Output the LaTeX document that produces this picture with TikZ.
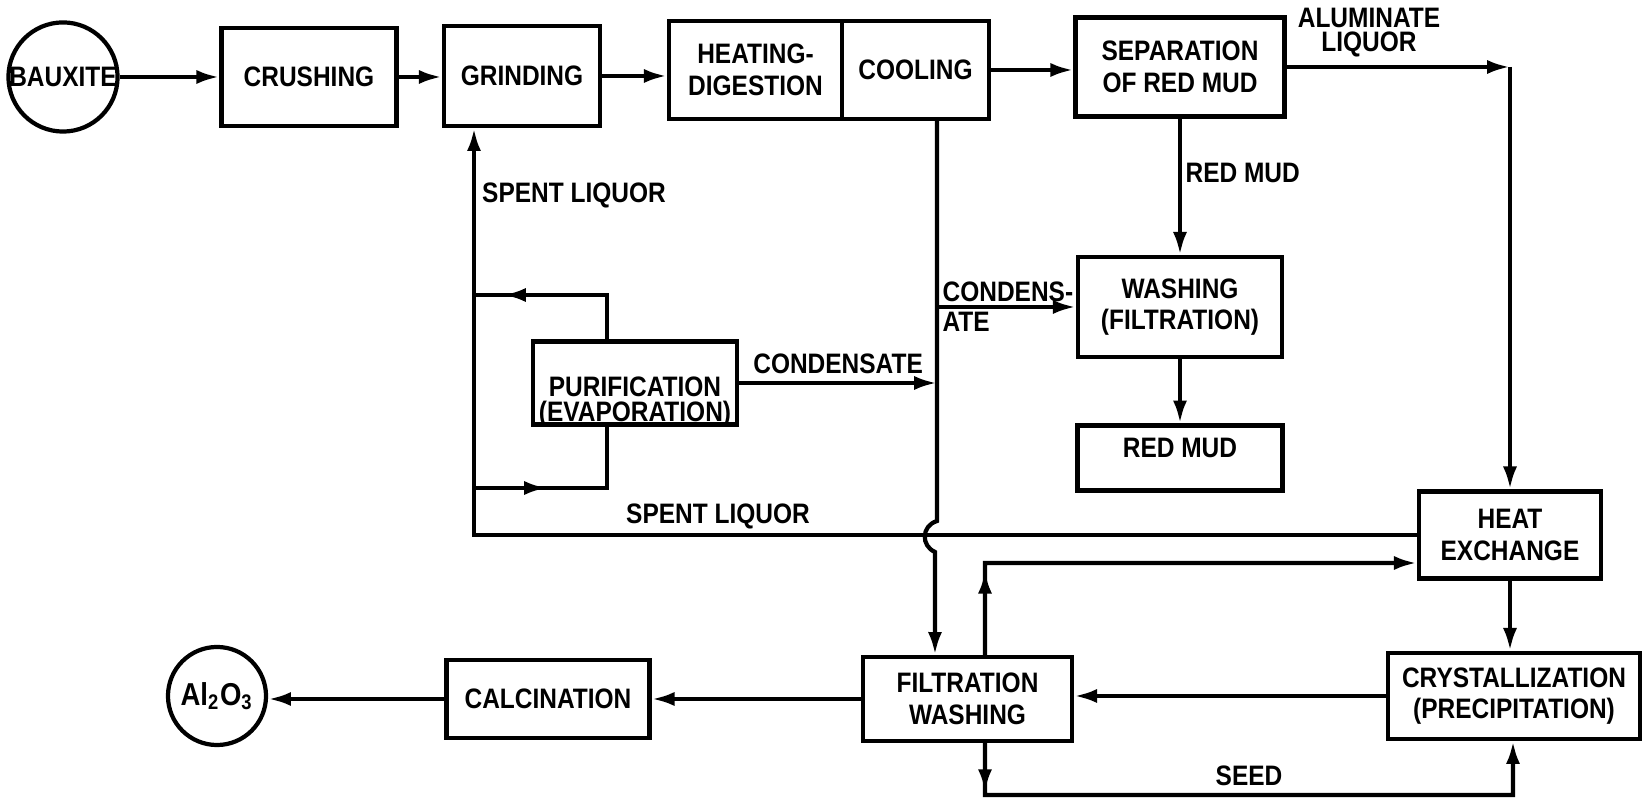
\documentclass[tikz,border=0pt]{standalone}
\usepackage{fontspec}
\newfontfamily\flowfont[FakeStretch=0.87]{Liberation Sans}
\usetikzlibrary{arrows.meta,decorations.markings}

\tikzset{tipat/.style={postaction={decorate},
    decoration={markings, mark=at position #1 with {\arrow{Latex[length=6.5pt,width=4pt]}}}}}

\begin{document}
\begin{tikzpicture}[x=0.01cm,y=-0.01cm]
        \tikzstyle{every node}=[font=\flowfont\bfseries\fontsize{8}{9}\selectfont]
        \tikzstyle{box}=[rectangle, draw, line width=1.2pt, align=center, inner sep=0pt]
        \tikzstyle{feed}=[circle, draw, line width=1.2pt, inner sep=0pt]
        \tikzstyle{pipe}=[line width=1.2pt]
        \tikzstyle{flow}=[pipe, -{Latex[length=6.5pt,width=4pt]}]

        \useasboundingbox (0,0) rectangle (1645,801);

        % top row
        \node[feed, minimum size=1.06cm] (bauxite) at (63,77) {BAUXITE};
        \node[box, minimum width=1.75cm, minimum height=0.98cm] (crushing) at (309,77) {CRUSHING};
        \node[box, minimum width=1.56cm, minimum height=1.00cm] (grinding) at (522,76) {GRINDING};
        \node[box, minimum width=1.73cm, minimum height=0.98cm] (heating) at (755.5,70) {HEATING-\\DIGESTION};
        \node[box, minimum width=1.47cm, minimum height=0.98cm] (cooling) at (915.5,70) {COOLING};
        \node[box, minimum width=2.09cm, minimum height=0.99cm] (separation) at (1180,67) {SEPARATION\\OF RED MUD};

        % red mud branch
        \node[box, minimum width=2.04cm, minimum height=1.00cm] (washing) at (1180,307) {WASHING\\(FILTRATION)};
        \node[box, minimum width=2.05cm, minimum height=0.65cm, text depth=0.2cm] (redmud) at (1180,458) {RED MUD};
        \node[box, minimum width=2.04cm, minimum height=0.83cm,
            label={[align=center, yshift=-0.19cm]center:{PURIFICATION\\[-2pt](EVAPORATION)}}] (purification) at (635,383) {};

        % lower row
        \node[box, minimum width=1.82cm, minimum height=0.87cm] (heatex) at (1510,535) {HEAT\\EXCHANGE};
        \node[box, minimum width=2.52cm, minimum height=0.86cm] (cryst) at (1514,696) {CRYSTALLIZATION\\(PRECIPITATION)};
        \node[box, minimum width=2.09cm, minimum height=0.84cm] (filt) at (967.5,699) {FILTRATION\\WASHING};
        \node[box, minimum width=2.03cm, minimum height=0.78cm] (calc) at (548,699) {CALCINATION};
        \node[feed, minimum size=0.98cm, font=\flowfont\bfseries\fontsize{9}{10}\selectfont] (alumina) at (217,696) {Al\textsubscript{2}O\textsubscript{3}};

        \coordinate (alcorner) at (heatex.north |- separation.east);
        \coordinate (slcorner) at (474,535);
        \coordinate (loopin) at (474,295);
        \coordinate (loopout) at (474,488);
        \coordinate (hopin) at (937,521);
        \coordinate (hopout) at (935,552);
        \coordinate (condsplit) at (937,307);
        \coordinate (retcorner) at (985,563);
        \coordinate (seedl) at (985,795);
        \coordinate (seedr) at (1513,795);

        \draw[flow] (bauxite) -- (bauxite -| crushing.west);
        \draw[flow] (crushing.east) -- (crushing.east -| grinding.west);
        \draw[flow] (grinding.east) -- (grinding.east -| heating.west);
        \draw[flow] (cooling.east) -- (cooling.east -| separation.west);
        \draw[flow] (separation.east) -- (alcorner);
        \draw[flow] (alcorner) -- (heatex.north);
        \node[align=center, anchor=south, inner sep=0pt] at (1369,58) {ALUMINATE\\[-2pt]LIQUOR};

        \draw[flow] (separation.south) -- node[right, pos=0.4, inner sep=1pt] {RED MUD} (washing.north);
        \draw[flow] (washing.south) -- (redmud.north);

        % cooling line, hopping over the spent liquor
        \draw[flow] ([xshift=0.215cm]cooling.south) -- (hopin)
            .. controls (921,526) and (921,546) .. (hopout) -- ([xshift=-0.325cm]filt.north);
        \draw[flow] (condsplit) -- node[pos=0, above right, inner sep=1pt] {CONDENS-}
            node[pos=0, below right, inner sep=1pt] {ATE} (washing.west);
        \draw[flow] (purification.east) -- node[above, inner sep=2pt] {CONDENSATE} (purification.east -| condsplit);

        % spent liquor
        \draw[flow] (heatex.west) -- (slcorner) -- (slcorner |- grinding.south);
        \node[anchor=west, inner sep=1pt] at (478,195) {SPENT LIQUOR};
        \node at (718,516) {SPENT LIQUOR};
        \draw[pipe, tipat=-0.29cm] ([xshift=-0.28cm]purification.north) |- (loopin);
        \draw[pipe, tipat=0.73cm] (loopout) -| ([xshift=-0.28cm]purification.south);

        \draw[flow] (heatex.south) -- (heatex.south |- cryst.north);
        \draw[flow] (cryst.west) -- (cryst.west -| filt.east);
        \draw[flow] (filt.west) -- (filt.west -| calc.east);
        \draw[flow] (calc.west) -- (calc.west -| alumina.east);
        \draw[flow, tipat=0.84cm] ([xshift=0.175cm]filt.north) -- (retcorner) -- (retcorner -| heatex.west);
        \draw[flow, tipat=0.49cm] ([xshift=0.175cm]filt.south) -- (seedl)
            -- node[above, inner sep=2pt] {SEED} (seedr) -- (seedr |- cryst.south);
    \end{tikzpicture}
\end{document}
